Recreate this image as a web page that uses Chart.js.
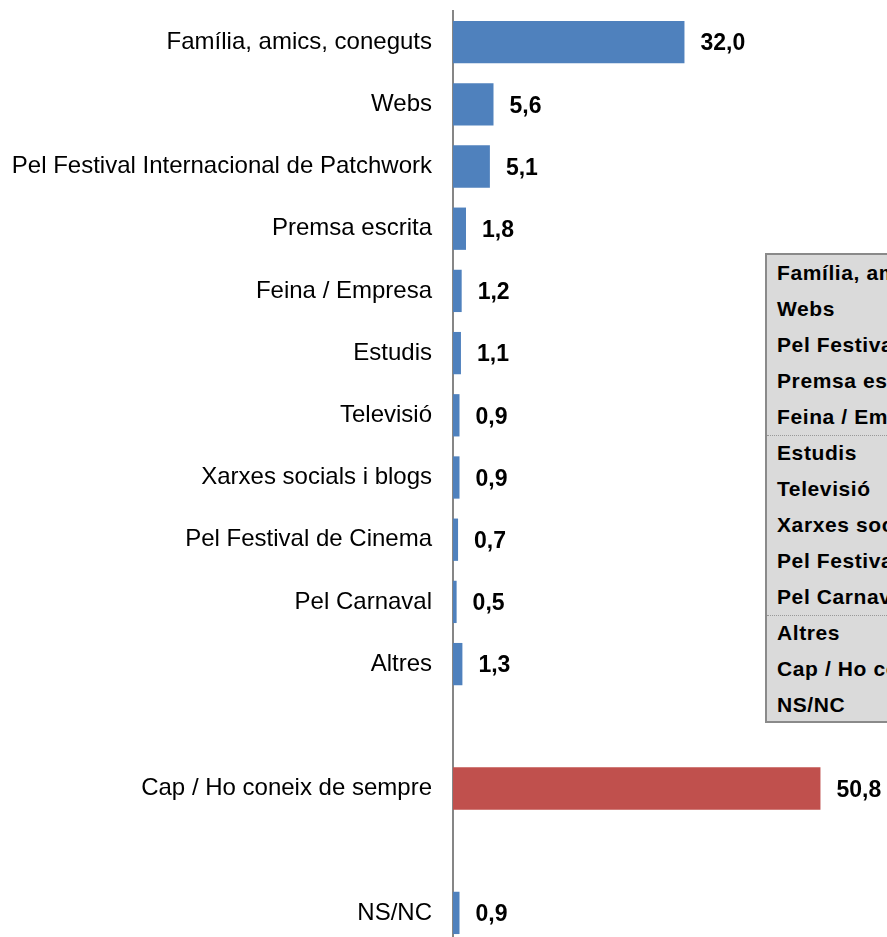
<!DOCTYPE html>
<html>
<head>
<meta charset="utf-8">
<script src="https://cdn.jsdelivr.net/npm/chart.js@4.4.1/dist/chart.umd.min.js"></script>
<style>
  html, body { margin: 0; padding: 0; background: #fff; overflow: hidden; }
  #wrap { position: absolute; left: 0; top: 0; width: 887px; height: 944px; }
  #box {
    position: absolute; left: 765px; top: 253px; width: 140px; height: 466px;
    background: #dadada; border: 2px solid #8a8a8a; overflow: hidden;
    font-family: "Liberation Sans", Arial, sans-serif; font-weight: bold;
    font-size: 21px; letter-spacing: 0.6px; color: #000;
  }
  #box div { height: 36px; line-height: 36px; padding-left: 10px; white-space: nowrap; box-sizing: border-box; }
  #box div.sep { border-top: 1px dotted #999; line-height: 34px; }
</style>
</head>
<body>
<div id="wrap"><canvas id="chart"></canvas></div>
<div id="box"></div>
<script>
// categories (blank entries are the empty gap rows)
const labels = [
  'Família, amics, coneguts',
  'Webs',
  'Pel Festival Internacional de Patchwork',
  'Premsa escrita',
  'Feina / Empresa',
  'Estudis',
  'Televisió',
  'Xarxes socials i blogs',
  'Pel Festival de Cinema',
  'Pel Carnaval',
  'Altres',
  '',
  'Cap / Ho coneix de sempre',
  '',
  'NS/NC'
];
const values = [32.0, 5.6, 5.1, 1.8, 1.2, 1.1, 0.9, 0.9, 0.7, 0.5, 1.3, null, 50.8, null, 0.9];
const highlighted = ['Cap / Ho coneix de sempre'];

document.addEventListener('DOMContentLoaded', function() {
  // grey box with the category names
  const box = document.getElementById('box');
  labels.filter(l => l !== '').forEach((l, i) => {
    const row = document.createElement('div');
    row.textContent = l;
    if (i === 5 || i === 10) row.className = 'sep';
    box.appendChild(row);
  });

  // value labels at the end of each bar
  const valueLabels = {
    id: 'valueLabels',
    afterDatasetsDraw(chart) {
      const ctx = chart.ctx;
      const meta = chart.getDatasetMeta(0);
      ctx.save();
      ctx.font = 'bold 23px "Liberation Sans", Arial, sans-serif';
      ctx.fillStyle = '#000';
      ctx.textBaseline = 'middle';
      ctx.textAlign = 'left';
      meta.data.forEach((bar, i) => {
        const v = values[i];
        if (v === null) return;
        ctx.fillText(v.toFixed(1).replace('.', ','), bar.x + 16, bar.y + 2);
      });
      ctx.restore();
    }
  };

  new Chart(document.getElementById('chart'), {
    type: 'bar',
    data: {
      labels: labels,
      datasets: [{
        data: values,
        backgroundColor: labels.map(l => highlighted.includes(l) ? '#C0504D' : '#4F81BD'),
        borderWidth: 0,
        categoryPercentage: 1,
        barPercentage: 0.68
      }]
    },
    options: {
      indexAxis: 'y',
      responsive: true,
      maintainAspectRatio: false,
      animation: false,
      layout: { padding: { top: 11, right: 0, bottom: 0, left: 0 } },
      plugins: { legend: { display: false }, tooltip: { enabled: false } },
      scales: {
        x: { display: false, min: 0, max: 60 },
        y: {
          grid: { display: false, drawTicks: false },
          border: { display: true, color: '#868686', width: 2 },
          ticks: {
            color: '#000',
            padding: 21,
            font: { family: '"Liberation Sans", Arial, sans-serif', size: 24 }
          },
          afterFit: function(scale) {
            scale.width = 453;
            scale.paddingTop = 0;
            scale.paddingBottom = 0;
          }
        }
      }
    },
    plugins: [valueLabels]
  });
});
</script>
</body>
</html>
